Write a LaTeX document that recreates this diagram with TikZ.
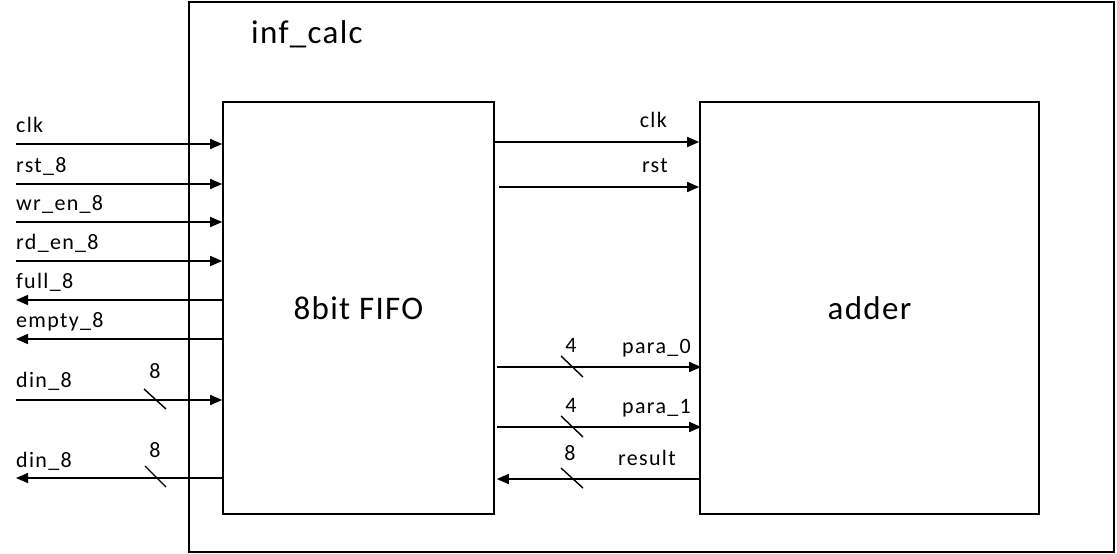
\documentclass[tikz,border=0pt]{standalone}
\usepackage{fontspec}
\setmainfont{Carlito}
\newfontfamily\labfont[LetterSpace=6]{Carlito}
\newfontfamily\bigfont[LetterSpace=4]{Carlito}
\usetikzlibrary{arrows.meta,positioning,calc}

\begin{document}
\begin{tikzpicture}[x=1pt,y=-1pt,>={Triangle[length=12pt,width=10pt]},
  sig/.style={line width=1.6pt},
  bus/.style={line width=1.4pt},
  blk/.style={draw,line width=1.6pt,minimum height=412pt,font=\bigfont\fontsize{33}{36}\selectfont},
  lab/.style={font=\labfont\fontsize{22}{24}\selectfont,inner sep=0pt}]
  \useasboundingbox (0,0) rectangle (1117,554);
  % outer block
  \node[draw,line width=1.6pt,minimum width=925pt,minimum height=550pt] (top) at (651.5,277) {};
  \node[anchor=base west,inner sep=0pt,font=\bigfont\fontsize{33}{36}\selectfont] (topname) at (251,43) {inf\_calc};
  % sub blocks
  \node[blk,minimum width=271pt] (fifo) at (358.5,308) {8bit FIFO};
  \node[blk,minimum width=339pt] (adder) at (869.5,308) {adder};
  % fifo ports
  \foreach \nm/\y [count=\i] in {clk/144,rst\_8/184,wr\_en\_8/222,rd\_en\_8/261}{
    \coordinate (in\i) at (16,\y);
    \draw[sig,->] (in\i) -- (in\i -| fifo.west);
    \node[lab,anchor=base west] (inlab\i) at (16,\y-12) {\nm};}
  \foreach \nm/\y [count=\i] in {full\_8/300,empty\_8/339}{
    \coordinate (out\i) at (16,\y);
    \draw[sig,->] (out\i -| fifo.west) -- (out\i);
    \node[lab,anchor=base west] (outlab\i) at (16,\y-12) {\nm};}
  \coordinate (din) at (16,400);
  \draw[sig,->] (din) -- (din -| fifo.west);
  \node[lab,anchor=base west] (dinlab) at (16,387) {din\_8};
  \draw[bus] (144,389) -- (166,409);
  \node[lab,anchor=base] (dinw) at (155,378) {8};
  \coordinate (dout) at (16,478);
  \draw[sig,->] (dout -| fifo.west) -- (dout);
  \node[lab,anchor=base west] (doutlab) at (16,467) {din\_8};
  \draw[bus] (145,466) -- (166,487);
  \node[lab,anchor=base] (doutw) at (155,457) {8};
  % fifo -> adder
  \draw[sig,->] (fifo.east |- 0,142) -- (adder.west |- 0,142);
  \node[lab,anchor=base east] (clklab) at (667,127) {clk};
  \draw[sig,->] ([xshift=4pt]fifo.east |- 0,187) -- (adder.west |- 0,187);
  \node[lab,anchor=base east] (rstlab) at (668,172) {rst};
  \foreach \nm/\y [count=\i from 0] in {para\_0/367,para\_1/427}{
    \draw[sig,->] ([xshift=2pt]fifo.east |- 0,\y) -- ([xshift=2pt]adder.west |- 0,\y);
    \draw[bus] (561,\y-11) -- (583,\y+10);
    \node[lab,anchor=base] (pw\i) at (571,\y-15) {4};
    \node[lab,anchor=base east] (plab\i) at (691,\y-14) {\nm};}
  \draw[sig,->] ([xshift=2pt]adder.west |- 0,479) -- ([xshift=2pt]fifo.east |- 0,479);
  \draw[bus] (561,468) -- (583,488);
  \node[lab,anchor=base] (resw) at (570,460) {8};
  \node[lab,anchor=base west] (reslab) at (618,465) {result};
\end{tikzpicture}
\end{document}
